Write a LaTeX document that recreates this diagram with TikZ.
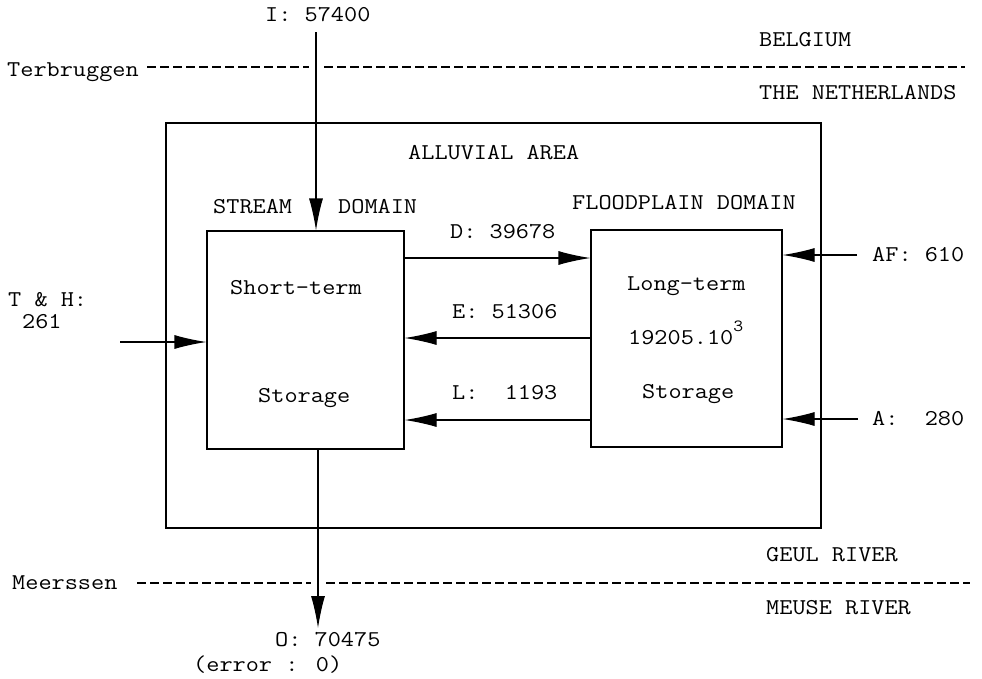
\documentclass[tikz,border=0pt]{standalone}
\usepackage{fontspec}
\usepackage{graphicx}
\usetikzlibrary{arrows.meta}
\newcommand{\tw}[1]{\scalebox{1.13}[1]{#1}}
\begin{document}
\begin{tikzpicture}[x=1pt,y=-1pt,
  lbl/.style={font=\ttfamily\fontsize{22.6}{26}\selectfont\addfontfeature{FakeBold=0.9}, inner sep=0pt, anchor=base west},
  box/.style={draw, line width=1.1pt, inner sep=0pt},
  arr/.style={line width=1.1pt, -{Latex[length=32pt,width=14pt]}},
  border/.style={line width=1.1pt, dash pattern=on 9pt off 4pt},
]
\useasboundingbox (0,0) rectangle (982,678);

% boxes
\node[box, minimum width=655pt, minimum height=405pt] (area) at (493.5,325.5) {};
\node[box, minimum width=197pt, minimum height=218pt] (stream) at (305.5,340) {};
\node[box, minimum width=191pt, minimum height=217pt] (flood) at (686.5,338.5) {};

% labels
\node[lbl] (tI) at (265,21) {\tw{I: 57400}};
\node[lbl] (tBel) at (759,46) {\tw{BELGIUM}};
\node[lbl] (tTer) at (7,76) {\tw{Terbruggen}};
\node[lbl] (tNL) at (759,99) {\tw{THE NETHERLANDS}};
\node[lbl] (tAll) at (408,159) {\tw{ALLUVIAL AREA}};
\node[lbl] (tStr) at (213,213) {\tw{STREAM}};
\node[lbl] (tDom) at (338,213) {\tw{DOMAIN}};
\node[lbl] (tFld) at (572,209) {\tw{FLOODPLAIN DOMAIN}};
\node[lbl] (tD) at (450,238) {\tw{D: 39678}};
\node[lbl] (tE) at (452,318) {\tw{E: 51306}};
\node[lbl] (tL) at (452,399) {\tw{L:\ \ 1193}};
\node[lbl] (tST) at (230,294) {\tw{Short-term}};
\node[lbl] (tSS) at (258,402) {\tw{Storage}};
\node[lbl] (tLT) at (627,290) {\tw{Long-term}};
\node[lbl] (tVal) at (628,344) {\tw{19205.10\raisebox{0.55em}{\fontsize{17}{18}\selectfont 3}}};
\node[lbl] (tLS) at (642,398) {\tw{Storage}};
\node[lbl] (tAF) at (872,261) {\tw{AF: 610}};
\node[lbl] (tA) at (872,425) {\tw{A:\ \ 280}};
\node[lbl] (tTH) at (8,306) {\tw{T \& H:}};
\node[lbl] (tTH2) at (22,328) {\tw{261}};
\node[lbl] (tGeul) at (766,561) {\tw{GEUL RIVER}};
\node[lbl] (tMer) at (12,589) {\tw{Meerssen}};
\node[lbl] (tMeuse) at (766,614) {\tw{MEUSE RIVER}};
\node[lbl] (tO) at (275,646) {\tw{O: 70475}};
\node[lbl] (tErr) at (193,671) {\tw{(error : 0)}};

% dashed borders
\coordinate (t1) at (147,67);
\coordinate (t2) at (309,67);
\coordinate (t3) at (324,67);
\coordinate (t4) at (965,67);
\draw[border] (t1) -- (t2);
\draw[border] (t3) -- (t4);
\coordinate (m1) at (137,583);
\coordinate (m2) at (311,583);
\coordinate (m3) at (326,583);
\coordinate (m4) at (970,583);
\draw[border] (m1) -- (m2);
\draw[border] (m3) -- (m4);

% flows
\coordinate (iS) at (316,32);
\draw[arr] (iS) -- (iS |- stream.north);
\coordinate (oE) at (318,628);
\draw[arr] (oE |- stream.south) -- (oE);
\coordinate (thS) at (120,342);
\draw[arr] (thS) -- (thS -| stream.west);
\coordinate (afS) at (857,255);
\draw[arr] (afS) -- (afS -| flood.east);
\coordinate (aS) at (858,419);
\draw[arr] (aS) -- (aS -| flood.east);
\coordinate (dY) at (0,258);
\draw[arr] (dY -| stream.east) -- (dY -| flood.west);
\coordinate (eY) at (0,338);
\draw[arr] (eY -| flood.west) -- (eY -| stream.east);
\coordinate (lY) at (0,420);
\draw[arr] (lY -| flood.west) -- (lY -| stream.east);
\end{tikzpicture}
\end{document}
